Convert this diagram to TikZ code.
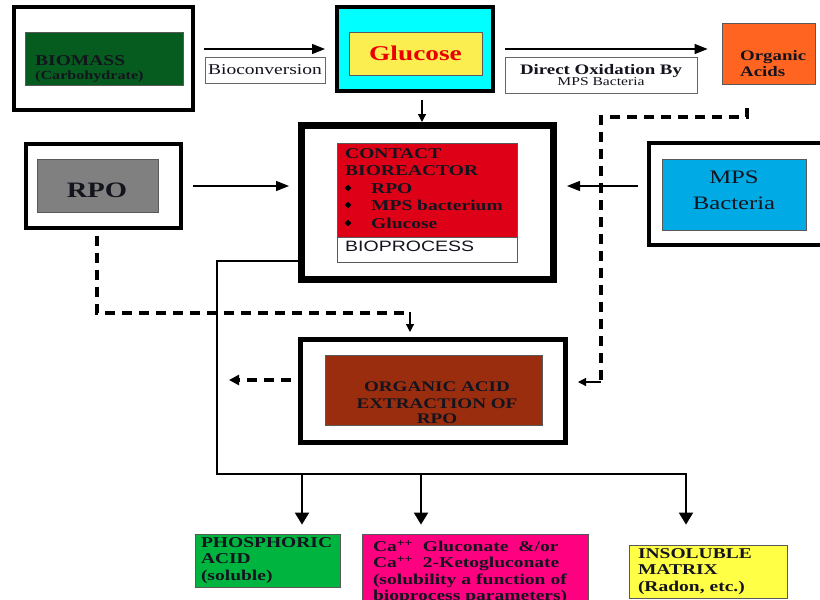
\documentclass[tikz,border=0pt]{standalone}
\usepackage{fontspec}
\setmainfont{Liberation Serif}[FakeStretch=1.3]
\newfontfamily\arialf{Liberation Sans}[FakeStretch=1.3]
\usetikzlibrary{arrows.meta,shapes.geometric}
\definecolor{cDkGreen}{RGB}{5,92,30}
\definecolor{cCyan}{RGB}{0,255,255}
\definecolor{cGluY}{RGB}{250,238,80}
\definecolor{cOrange}{RGB}{255,100,32}
\definecolor{cRed}{RGB}{222,0,22}
\definecolor{cGray}{RGB}{128,128,128}
\definecolor{cBlue}{RGB}{0,170,228}
\definecolor{cBrown}{RGB}{155,45,15}
\definecolor{cGreen}{RGB}{0,180,64}
\definecolor{cMag}{RGB}{255,0,128}
\definecolor{cYel}{RGB}{255,255,70}
\definecolor{cGluTxt}{RGB}{235,0,0}
\definecolor{cInk}{RGB}{20,20,30}
\newcommand\myfs[2]{\fontsize{#1}{#2}\selectfont}
\begin{document}
\begin{tikzpicture}[x=1pt,y=-1pt,
  obox/.style={draw=black,line width=4pt,inner sep=0pt,fill=white},
  ibox/.style={draw=black!65,line width=0.8pt,inner sep=0pt},
  lblbox/.style={draw=black!60,line width=0.8pt,fill=white,inner sep=0pt,align=center,text=cInk},
  txt/.style={inner sep=0pt,anchor=base west,text=cInk,font=\bfseries\myfs{15}{17}},
  ctxt/.style={inner sep=0pt,anchor=base,text=cInk,font=\bfseries\myfs{15}{17}},
  arr/.style={draw=black,line width=1.4pt,-{Triangle[length=13pt,width=10pt]}},
  sarr/.style={draw=black,line width=1.2pt,-{Triangle[length=8pt,width=8pt]}},
  barr/.style={draw=black,line width=2pt,-{Triangle[length=12pt,width=14pt]}},
  dsh/.style={draw=black,line width=3.2pt,dash pattern=on 10pt off 7pt},
  bul/.style={diamond,fill=black,inner sep=0pt,minimum size=7pt},
  btm/.style={draw=black!65,line width=0.8pt,inner ysep=0pt,align=left,text=cInk,font=\bfseries\myfs{15}{16.5}},
]
\useasboundingbox (0,0) rectangle (820,600);

% ---------- outer boxes ----------
\node[obox,minimum width=179pt,minimum height=103pt] (bioO) at (103.5,58.5) {};
\node[obox,fill=cCyan,minimum width=156pt,minimum height=84pt] (gluO) at (415,49) {};
\node[obox,line width=7pt,minimum width=252pt,minimum height=154pt] (reaO) at (427.5,202.5) {};
\node[obox,minimum width=155pt,minimum height=84pt] (rpoO) at (103.5,186) {};
\node[obox,minimum width=179pt,minimum height=102pt] (mpsO) at (738.5,194) {};
\node[obox,line width=5pt,minimum width=265pt,minimum height=103pt] (extO) at (433,391) {};

% ---------- inner boxes ----------
\node[ibox,fill=cDkGreen,minimum width=158pt,minimum height=53pt] (bioI) at (104,58.5) {};
\node[ibox,fill=cGluY,minimum width=133pt,minimum height=43pt,text=cGluTxt,font=\bfseries\myfs{21}{23}] (gluI) at (415.5,53.5) {Glucose};
\node[ibox,fill=cOrange,minimum width=93pt,minimum height=61pt] (orgA) at (768.5,53.5) {};
\node[ibox,fill=cRed,minimum width=180pt,minimum height=94pt] (reaI) at (427,190) {};
\node[ibox,fill=white,minimum width=180pt,minimum height=25pt] (bioP) at (427,249.5) {};
\node[ibox,fill=cGray,minimum width=121pt,minimum height=53pt] (rpoI) at (97.5,185.5) {};
\node[ibox,fill=cBlue,minimum width=144pt,minimum height=71pt] (mpsI) at (734,194.5) {};
\node[ibox,fill=cBrown,minimum width=217pt,minimum height=70pt] (extI) at (433.5,390) {};

% ---------- label boxes ----------
\node[lblbox,minimum width=120pt,minimum height=26pt,font=\myfs{15}{17}] (bconv) at (265,70) {Bioconversion};
\node[lblbox,minimum width=192pt,minimum height=36pt] (doxL) at (601,75)
  {{\bfseries\myfs{14.5}{13}Direct Oxidation By}\\[-1pt]{\myfs{12}{12}MPS Bacteria}};

% ---------- bottom boxes ----------
\node[btm,fill=cGreen,minimum width=145pt,minimum height=53pt,inner xsep=6pt,text width=133pt] (phos) at (267.5,560.5)
  {PHOSPHORIC\\ACID\\(soluble)};
\node[btm,fill=cMag,minimum width=226pt,minimum height=76pt,inner xsep=11pt,text width=204pt] (ca) at (475,572)
  {Ca\textsuperscript{++}\ \ Gluconate\ \ \&/or\\Ca\textsuperscript{++}\ \ 2-Ketogluconate\\(solubility a function of\\bioprocess parameters)};
\node[btm,fill=cYel,minimum width=158pt,minimum height=53pt,inner xsep=9pt,text width=140pt] (ins) at (708,571.5)
  {INSOLUBLE\\MATRIX\\(Radon, etc.)};

% ---------- texts ----------
\node[txt] (tBio1) at (35,65) {BIOMASS};
\node[txt,font=\bfseries\myfs{12.4}{14}] (tBio2) at (35,79) {(Carbohydrate)};
\node[txt,font=\bfseries\myfs{14.5}{16}] (tOrg1) at (740,60) {Organic};
\node[txt,font=\bfseries\myfs{14.5}{16}] (tOrg2) at (740,76) {Acids};

\node[txt] (tRea1) at (345,158) {CONTACT};
\node[txt] (tRea2) at (345,175) {BIOREACTOR};
\node[bul] (u1) at (348,188) {};
\node[bul] (u2) at (348,205) {};
\node[bul] (u3) at (348,223) {};
\node[txt] (tRea3) at (371,193) {RPO};
\node[txt] (tRea4) at (371,210) {MPS bacterium};
\node[txt] (tRea5) at (371,228) {Glucose};
\node[txt,font=\arialf\myfs{15}{17}] (tBioP) at (345,251) {BIOPROCESS};

\node[ctxt,font=\bfseries\myfs{22}{24}] (tRpo) at (97,197) {RPO};
\node[ctxt,font=\myfs{19}{21}] (tMps1) at (734,183) {MPS};
\node[ctxt,font=\myfs{19}{21}] (tMps2) at (734,209) {Bacteria};

\node[ctxt,font=\bfseries\myfs{14.7}{16}] (tExt1) at (437,391) {ORGANIC ACID};
\node[ctxt,font=\bfseries\myfs{14.7}{16}] (tExt2) at (437,408) {EXTRACTION OF};
\node[ctxt,font=\bfseries\myfs{14.7}{16}] (tExt3) at (437,423) {RPO};

% ---------- connectors ----------
\draw[arr] ([xshift=9pt]bioO.east |- gluO.center) -- ([xshift=-10pt]gluO.west);
\draw[arr] ([xshift=10pt]gluO.east) -- ([xshift=-14pt]gluO.east -| orgA.west);
\draw[sarr] ([xshift=7pt,yshift=-7pt]gluO.south) -- ([xshift=7pt]gluO.south |- reaO.north);
\draw[arr] ([xshift=10pt]rpoO.east) -- ([xshift=-9pt]reaO.west |- rpoO.east);
\draw[arr] ([xshift=-9pt]mpsO.west |- rpoO.east) -- ([xshift=10pt]reaO.east |- rpoO.east);

% dashed: organic acids -> extraction
\coordinate (oaD) at (747,108);
\coordinate (oaC) at (747,117);
\coordinate (dR) at (601,382);
\draw[dsh] (oaD) -- (oaC) -| (dR);
\draw[sarr] (dR) -- ([xshift=10pt]extO.east |- dR);

% dashed: RPO -> extraction
\coordinate (rpD) at (97,236);
\coordinate (dL) at (410,313);
\draw[dsh] (rpD) |- (dL);
\draw[sarr] ([yshift=1pt]dL) -- ([yshift=5pt]dL |- extO.north);

% dashed: extraction -> left
\coordinate (xl) at (229,380);
\draw[dsh,-{Triangle[length=10pt,width=10pt]}] ([xshift=-7pt]extO.west |- xl) -- (xl);

% bus from reactor
\coordinate (bA) at (217,261);
\coordinate (bB) at (217,474);
\coordinate (b1) at (302,474);
\coordinate (b2) at (421,474);
\coordinate (b3) at (686,474);
\draw[line width=2pt] (reaO.west |- bA) -- (bA) -- (bB) -- (b3);
\draw[barr] (b1) -- ([yshift=9pt]b1 |- phos.north);
\draw[barr] (b2) -- ([yshift=9pt]b2 |- ca.north);
\draw[barr] ([yshift=1pt]b3) -- ([yshift=20pt]b3 |- ins.north);
\end{tikzpicture}
\end{document}
